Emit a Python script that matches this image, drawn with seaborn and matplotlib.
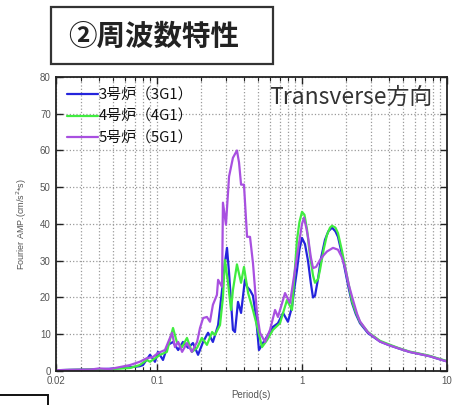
import numpy as np
import pandas as pd
import matplotlib
matplotlib.use("Agg")
import matplotlib.pyplot as plt
from matplotlib.patches import Rectangle
from matplotlib.ticker import LogLocator, NullFormatter, FixedLocator
import seaborn as sns

# ---------------- data ----------------
units = ["3号炉（3G1）", "4号炉（4G1）", "5号炉（5G1）"]
colors = ["#2424dc", "#40ec40", "#a850e0"]

period_3 = [0.020, 0.025, 0.035, 0.047, 0.056, 0.065, 0.076, 0.080, 0.0895, 0.0969,
            0.1016, 0.110, 0.119, 0.129, 0.140, 0.151, 0.164, 0.177, 0.192, 0.208,
            0.225, 0.243, 0.264, 0.281, 0.294, 0.304, 0.314, 0.334, 0.345, 0.362,
            0.380, 0.404, 0.418, 0.438, 0.459, 0.482, 0.505, 0.538, 0.583, 0.631,
            0.683, 0.740, 0.800, 0.853, 0.89, 0.924, 0.96, 1.000, 1.049, 1.100,
            1.15, 1.191, 1.23, 1.289, 1.35, 1.441, 1.52, 1.611, 1.70, 1.771,
            1.88, 1.980, 2.10, 2.213, 2.35, 2.512, 2.852, 3.451, 4.0, 4.59,
            5.5, 6.5, 7.63, 8.7, 10.0]
amp_3 = [0.2, 0.3, 0.4, 0.6, 0.8, 1.0, 1.3, 1.6, 4.4, 2.5,
         5.2, 3.0, 7.1, 7.9, 5.7, 7.9, 6.3, 7.6, 4.4, 7.9,
         10.4, 7.9, 12.5, 22.0, 29.4, 33.5, 26.7, 11.2, 10.6, 18.8,
         15.8, 24.8, 22.9, 22.0, 20.5, 14.7, 5.7, 7.6, 9.8, 12.0,
         13.0, 15.8, 13.4, 17.4, 23.0, 27.5, 33.0, 36.2, 34.5, 30.0,
         24.0, 20.0, 20.5, 25.0, 30.5, 35.7, 38.0, 39.0, 38.0, 36.5,
         32.0, 27.5, 22.5, 18.5, 15.5, 13.0, 10.3, 8.0, 7.0, 6.2,
         5.2, 4.6, 4.0, 3.3, 2.6]

period_4 = [0.020, 0.035, 0.047, 0.065, 0.076, 0.085, 0.0895, 0.105, 0.117, 0.129,
            0.137, 0.149, 0.161, 0.174, 0.189, 0.204, 0.221, 0.240, 0.251, 0.272,
            0.285, 0.294, 0.309, 0.324, 0.334, 0.356, 0.380, 0.398, 0.425, 0.459,
            0.497, 0.530, 0.574, 0.631, 0.705, 0.788, 0.853, 0.924, 0.96, 1.000,
            1.04, 1.083, 1.13, 1.191, 1.229, 1.29, 1.331, 1.41, 1.486, 1.56,
            1.611, 1.70, 1.771, 1.88, 1.980, 2.10, 2.213, 2.35, 2.512, 2.852,
            3.451, 4.0, 4.59, 5.5, 6.5, 7.63, 8.7, 10.0]
amp_4 = [0.2, 0.4, 0.5, 0.8, 1.6, 3.0, 2.5, 4.4, 5.2, 11.7,
         7.9, 6.5, 9.0, 5.2, 6.3, 9.0, 7.1, 10.6, 9.8, 12.5,
         20.0, 30.2, 24.0, 16.6, 22.0, 29.0, 24.0, 28.3, 21.2, 16.6,
         11.2, 6.5, 8.4, 11.2, 13.0, 19.3, 16.6, 35.7, 40.5, 43.3,
         42.5, 38.5, 32.0, 26.0, 24.0, 25.0, 27.5, 33.0, 37.0, 39.0,
         39.5, 39.0, 37.5, 33.0, 28.5, 23.5, 19.0, 16.0, 13.3, 10.6,
         8.2, 7.2, 6.3, 5.3, 4.7, 4.1, 3.4, 2.7]

period_5 = [0.020, 0.025, 0.035, 0.040, 0.047, 0.056, 0.065, 0.076, 0.0853, 0.0938,
            0.1016, 0.1135, 0.127, 0.133, 0.140, 0.149, 0.161, 0.174, 0.189, 0.198,
            0.208, 0.221, 0.232, 0.243, 0.259, 0.264, 0.281, 0.285, 0.299, 0.314,
            0.334, 0.356, 0.368, 0.380, 0.398, 0.418, 0.438, 0.459, 0.489, 0.513,
            0.556, 0.602, 0.652, 0.683, 0.764, 0.826, 0.895, 0.969, 1.000, 1.032,
            1.07, 1.100, 1.15, 1.191, 1.25, 1.331, 1.41, 1.486, 1.636, 1.771,
            1.88, 1.980, 2.10, 2.248, 2.40, 2.512, 2.852, 3.451, 4.0, 4.59,
            5.5, 6.5, 7.63, 8.7, 10.0]
amp_5 = [0.2, 0.3, 0.4, 0.7, 0.5, 1.1, 1.6, 2.5, 3.5, 3.8,
         4.9, 5.7, 10.4, 6.5, 7.9, 5.2, 7.6, 5.2, 7.9, 11.7,
         14.4, 14.7, 13.4, 18.0, 20.7, 24.8, 22.9, 45.8, 39.8, 52.9,
         58.0, 60.0, 56.7, 50.7, 50.7, 36.5, 36.5, 29.4, 15.8, 10.4,
         7.9, 11.2, 16.6, 14.7, 21.2, 18.5, 27.5, 36.5, 40.0, 41.7,
         39.0, 36.5, 31.0, 28.0, 28.3, 30.2, 31.5, 32.5, 33.5, 33.0,
         31.0, 28.3, 23.5, 19.3, 15.5, 13.5, 10.5, 8.0, 7.0, 6.2,
         5.2, 4.6, 4.0, 3.3, 2.6]

x_ticks = [0.02, 0.1, 1, 10]
x_tick_labels = ["0.02", "0.1", "1", "10"]
y_ticks = [0, 10, 20, 30, 40, 50, 60, 70, 80]

# ---------------- build table ----------------
frames = []
for u, p, a in zip(units, [period_3, period_4, period_5], [amp_3, amp_4, amp_5]):
    frames.append(pd.DataFrame({"period": p, "amp": a, "unit": u}))
df = pd.concat(frames, ignore_index=True)

# ---------------- style ----------------
sns.set_style("ticks")
plt.rcParams["font.family"] = ["Liberation Sans", "Noto Sans CJK JP", "DejaVu Sans"]
cjk = ["Noto Sans CJK JP", "DejaVu Sans"]

fig = plt.figure(figsize=(4.69, 4.05), dpi=100)
ax = fig.add_axes([0.1186, 0.084, 0.8345, 0.726])

sns.lineplot(data=df, x="period", y="amp", hue="unit", hue_order=units,
             palette=colors, estimator=None, sort=False, linewidth=1.6, ax=ax)

ax.set_xscale("log")
ax.set_xlim(0.02, 10)
ax.set_ylim(0, 80)
ax.xaxis.set_major_locator(FixedLocator(x_ticks))
ax.set_xticklabels(x_tick_labels)
ax.xaxis.set_minor_locator(LogLocator(base=10, subs=np.arange(2, 10)))
ax.xaxis.set_minor_formatter(NullFormatter())
ax.set_yticks(y_ticks)

ax.tick_params(which="both", direction="in", top=True, right=True,
               colors="#222222", labelcolor="#555555", labelsize=7)
ax.tick_params(which="major", length=5, width=1.0)
ax.tick_params(which="minor", length=3, width=0.8)

ax.grid(which="major", axis="both", linestyle=":", color="#9a9a9a", linewidth=0.9)
ax.grid(which="minor", axis="x", linestyle=":", color="#9a9a9a", linewidth=0.9)

for s in ax.spines.values():
    s.set_color("#222222")
    s.set_linewidth(1.3)

ax.set_xlabel("Period(s)", fontsize=7, color="#555555", labelpad=3)
ax.set_ylabel("Fourier AMP.(cm/s$^2$*s)", fontsize=6.5, color="#555555", labelpad=8)

handles, labels = ax.get_legend_handles_labels()
leg = ax.legend(handles, labels, loc="upper left", bbox_to_anchor=(0.028, 0.962),
                frameon=False, borderpad=0, borderaxespad=0, handlelength=2.1,
                handletextpad=0.05, labelspacing=0.5,
                prop={"family": cjk, "size": 10.7})
for t in leg.get_texts():
    t.set_color("#111111")

ax.text(0.962, 0.932, "Transverse方向", transform=ax.transAxes, ha="right",
        va="center", fontsize=16.5, color="#333333", family=cjk)

# title box
fig.patches.append(Rectangle((0.1087, 0.842), 0.473, 0.1407, transform=fig.transFigure,
                             fill=False, edgecolor="#333333", linewidth=1.6))
fig.text(0.328, 0.908, "②周波数特性", ha="center", va="center", fontsize=20.5,
         fontweight="bold", color="#222222", family=cjk)

# partial box at bottom-left
fig.patches.append(Rectangle((-0.02, -0.05), 0.1223, 0.0747, transform=fig.transFigure,
                             fill=False, edgecolor="#111111", linewidth=1.4))

fig.savefig("out.png", dpi=100)
